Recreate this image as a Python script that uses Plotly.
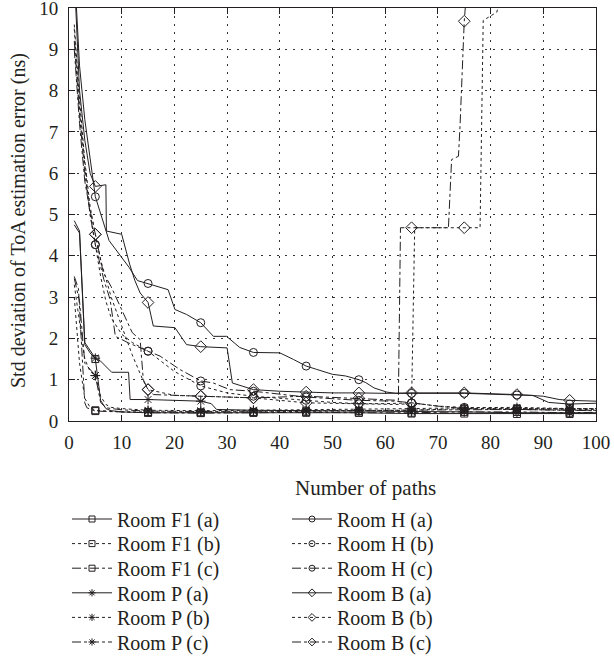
import plotly.graph_objects as go

# ---------------- data ----------------
F1A_X = [1, 2, 3, 4, 5, 6, 7, 8, 10, 15, 25, 35, 45, 55, 65, 75, 85, 95, 100]
F1A_Y = [4.75, 4.55, 1.85, 1.65, 1.5, 0.5, 0.3, 0.25, 0.22, 0.2, 0.2, 0.2, 0.2, 0.2, 0.18, 0.18, 0.17, 0.17, 0.18]

F1B_X = [1, 2, 3, 4, 5, 10, 15, 25, 35, 45, 55, 65, 75, 85, 95, 100]
F1B_Y = [3.0, 1.4, 0.55, 0.33, 0.26, 0.22, 0.22, 0.21, 0.22, 0.23, 0.24, 0.26, 0.3, 0.3, 0.31, 0.3]

F1C_X = [1, 1.8, 2.4, 3, 3.4, 5, 10, 15, 25, 35, 45, 55, 65, 75, 85, 95, 100]
F1C_Y = [3.5, 3.2, 1.8, 0.44, 0.32, 0.24, 0.22, 0.2, 0.19, 0.2, 0.21, 0.2, 0.2, 0.22, 0.22, 0.2, 0.21]

PA_X = [1, 2, 3, 4, 5, 6, 8.1, 11.3, 11.6, 15, 25, 27, 28, 35, 45, 55, 65, 75, 85, 95, 100]
PA_Y = [4.85, 4.6, 1.9, 1.7, 1.52, 1.45, 1.18, 1.18, 0.52, 0.52, 0.48, 0.42, 0.28, 0.26, 0.25, 0.25, 0.23, 0.22, 0.2, 0.2, 0.2]

PB_X = [1, 2, 3, 4, 5, 6, 7, 8, 10, 15, 25, 35, 45, 55, 65, 75, 85, 95, 100]
PB_Y = [3.3, 2.4, 1.5, 1.2, 1.1, 0.6, 0.4, 0.33, 0.3, 0.26, 0.25, 0.26, 0.27, 0.28, 0.3, 0.32, 0.33, 0.3, 0.3]

PC_X = [1, 2, 3, 4, 5, 6, 7, 10, 15, 25, 35, 45, 55, 65, 75, 85, 95, 100]
PC_Y = [3.45, 2.9, 1.4, 1.25, 1.1, 0.45, 0.32, 0.27, 0.24, 0.23, 0.24, 0.25, 0.25, 0.27, 0.28, 0.28, 0.26, 0.26]

HA_X = [1, 2, 3, 4, 5, 7.6, 11.4, 13, 15, 18.8, 20.1, 22.3, 25, 27.4, 29.9, 32.4, 35, 40, 42.6, 45, 47,
        50, 52.5, 55, 56.3, 57.9, 60.3, 62, 65, 75, 85, 88, 91, 95, 100]
HA_Y = [11, 8.6, 7.3, 6.3, 5.43, 4.37, 3.72, 3.4, 3.33, 3.18, 2.7, 2.58, 2.38, 2.05, 2.05, 1.78, 1.66, 1.65, 1.49, 1.33, 1.25,
        1.13, 1.09, 1.0, 0.93, 0.8, 0.7, 0.67, 0.67, 0.67, 0.63, 0.62, 0.45, 0.41, 0.43]

HB_X = [1, 2, 3, 4, 5, 6, 7, 8, 10, 12, 15, 20, 25, 30, 35, 40, 45, 50, 55, 60, 65, 70, 75, 85, 95, 100]
HB_Y = [9.5, 7.6, 6.2, 5.0, 4.27, 3.5, 2.9, 2.5, 2.1, 1.9, 1.69, 1.2, 0.85, 0.68, 0.6, 0.55, 0.5, 0.45, 0.42, 0.42, 0.44, 0.36, 0.33, 0.3, 0.28, 0.28]

HC_X = [1, 2, 3, 4, 5, 6.6, 7.8, 8.8, 11.3, 15, 17.3, 21, 25, 27.4, 30.5, 35, 45, 55, 62, 65, 70, 75, 85, 95, 100]
HC_Y = [9.2, 7.4, 6.0, 5.0, 4.27, 3.43, 2.94, 2.05, 1.89, 1.69, 1.57, 1.25, 0.97, 0.92, 0.76, 0.72, 0.58, 0.5, 0.48, 0.44, 0.36, 0.3, 0.28, 0.25, 0.25]

BA_X = [1, 2, 3, 4, 5, 7, 7.1, 10, 11.5, 12.5, 13.5, 15, 16, 20.1, 22.3, 25, 30, 31, 33, 35, 40, 45, 50, 55,
        60, 65, 75, 85, 90, 93, 95, 100]
BA_Y = [10.8, 8.0, 6.8, 6.0, 5.68, 5.72, 4.6, 4.52, 3.8, 3.4, 3.1, 2.87, 2.3, 2.26, 1.85, 1.8, 1.77, 0.92, 0.84, 0.76, 0.72, 0.7, 0.68, 0.68,
        0.67, 0.68, 0.68, 0.64, 0.6, 0.52, 0.5, 0.48]

BB_X = [1, 2, 3, 4, 5, 6, 8, 10, 12, 14, 15, 20, 25, 35, 45, 55, 62, 65, 65.6, 75, 78, 78.6, 79.3, 81.2, 82]
BB_Y = [9.6, 7.8, 6.3, 5.2, 4.52, 3.9, 3.0, 2.3, 1.6, 1.0, 0.76, 0.62, 0.6, 0.56, 0.44, 0.42, 0.4, 0.42, 4.68, 4.68, 4.68, 9.7, 9.75, 9.9, 10.5]

BC_X = [1, 2, 3, 4, 5, 6.5, 8, 10, 12, 13.5, 14.1, 15, 16, 25, 35, 45, 55, 60, 62.5, 62.9, 65, 72, 72.6, 73.9, 74.2, 75, 75.5]
BC_Y = [9.0, 7.2, 5.8, 5.1, 4.52, 3.6, 3.25, 2.7, 2.14, 1.97, 1.0, 0.76, 0.64, 0.6, 0.56, 0.6, 0.55, 0.52, 0.5, 4.68, 4.68, 4.68, 6.33, 6.41, 7.14, 9.68, 10.5]

SERIES = [
    ("Room F1 (a)", F1A_X, F1A_Y), ("Room F1 (b)", F1B_X, F1B_Y), ("Room F1 (c)", F1C_X, F1C_Y),
    ("Room P (a)", PA_X, PA_Y), ("Room P (b)", PB_X, PB_Y), ("Room P (c)", PC_X, PC_Y),
    ("Room H (a)", HA_X, HA_Y), ("Room H (b)", HB_X, HB_Y), ("Room H (c)", HC_X, HC_Y),
    ("Room B (a)", BA_X, BA_Y), ("Room B (b)", BB_X, BB_Y), ("Room B (c)", BC_X, BC_Y),
]

X_TICKS = [0, 10, 20, 30, 40, 50, 60, 70, 80, 90, 100]
Y_TICKS = [0, 1, 2, 3, 4, 5, 6, 7, 8, 9, 10]

# ---------------- styling ----------------
INK = "#231f20"
FONT = "Liberation Serif"
SYMBOLS = ["square-open", "asterisk-open", "circle-open", "diamond-open"]
SIZES = [7, 8, 8, 9]
DASHES = ["solid", "dot", "dashdot"]

W, H = 614, 663
ML, MR, MT, MB = 69, 18, 8, 242
PW, PH = W - ML - MR, H - MT - MB
COL_PX = [67, 287]
ROW_PX = [519, 543.6, 568.2, 592.8, 617.4, 642]

fig = go.Figure()
for i, (name, xs, ys) in enumerate(SERIES):
    kind = 0 if i < 3 else (1 if i < 6 else (2 if i < 9 else 3))
    symbol, msize = SYMBOLS[kind], SIZES[kind]
    dash = DASHES[i % 3]
    line = dict(color=INK, width=1, dash=dash)
    marker = dict(symbol=symbol, size=msize, color=INK, line=dict(color=INK, width=1))
    fig.add_trace(go.Scatter(x=xs, y=ys, mode="lines", line=line, showlegend=False, hoverinfo="skip"))
    mx = [x for x in xs if x % 10 == 5]
    my = [y for x, y in zip(xs, ys) if x % 10 == 5]
    fig.add_trace(go.Scatter(x=mx, y=my, mode="markers", marker=marker, showlegend=False))
    lid = "legend" if i == 0 else f"legend{i + 1}"
    fig.add_trace(go.Scatter(x=[None], y=[None], mode="lines+markers", name=name, line=line,
                             marker=dict(symbol=symbol, size=6, color=INK, line=dict(color=INK, width=1)),
                             legend=lid, showlegend=True))
    col = 0 if i < 6 else 1
    row = i % 6
    fig.update_layout({lid: dict(
        x=(COL_PX[col] - ML) / PW, y=(MT + PH - ROW_PX[row]) / PH,
        xref="paper", yref="paper", xanchor="left", yanchor="middle",
        bgcolor="rgba(0,0,0,0)", borderwidth=0, itemwidth=40,
        font=dict(family=FONT, size=20, color=INK))})

axis_common = dict(
    showline=True, linecolor=INK, linewidth=1, mirror="allticks",
    ticks="inside", ticklen=6, tickcolor=INK, tickwidth=1,
    showgrid=True, gridcolor="#333", gridwidth=1, griddash="2px,6px",
    zeroline=False, ticklabeloverflow="allow",
    tickfont=dict(family=FONT, size=19, color=INK),
)
fig.update_xaxes(range=[0, 100], tickvals=X_TICKS, ticklabelstandoff=4, **axis_common)
fig.update_yaxes(range=[0, 10], tickvals=Y_TICKS, ticklabelstandoff=6, **axis_common)

fig.update_layout(
    width=W, height=H,
    margin=dict(l=ML, r=MR, t=MT, b=MB, autoexpand=False),
    paper_bgcolor="white", plot_bgcolor="white",
    font=dict(family=FONT, size=20, color=INK),
    annotations=[
        dict(text="Std deviation of ToA estimation error (ns)", textangle=-90,
             x=(18 - ML) / PW, y=(MT + PH - 221) / PH, xref="paper", yref="paper",
             xanchor="center", yanchor="middle", showarrow=False,
             font=dict(family=FONT, size=20, color=INK)),
        dict(text="Number of paths", x=(365 - ML) / PW, y=(MT + PH - 488) / PH,
             xref="paper", yref="paper", xanchor="center", yanchor="middle",
             showarrow=False, font=dict(family=FONT, size=21, color=INK)),
    ],
)

fig.write_html("out.html", config={"displayModeBar": False},
               post_script="document.body.style.margin='0px';")
